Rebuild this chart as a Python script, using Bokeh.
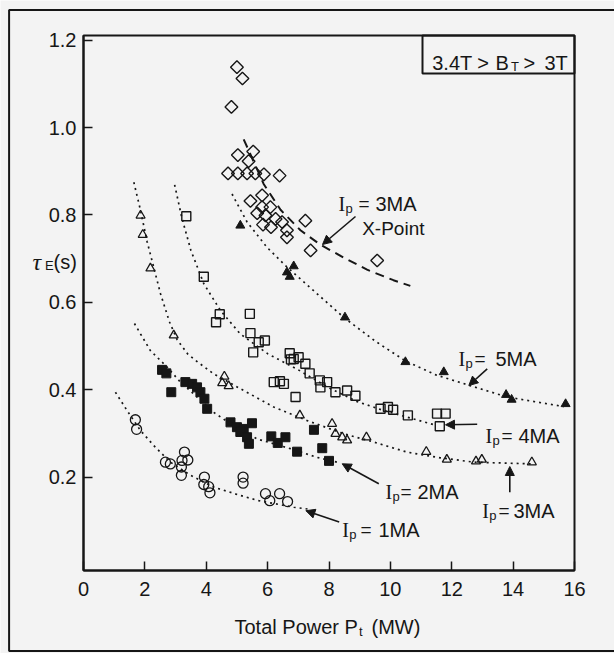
from bokeh.plotting import figure
from bokeh.models import (Range1d, FixedTicker, NumeralTickFormatter, Label,
                          Arrow, NormalHead, BoxAnnotation)
from bokeh.embed import file_html
from bokeh.resources import INLINE
import math

# ---------------- data ----------------
X_TICKS = [0, 2, 4, 6, 8, 10, 12, 14, 16]
Y_TICKS = [0.2, 0.4, 0.6, 0.8, 1.0, 1.2]

# Ip = 3 MA, X-point (open diamonds)
xp_x = [5.00, 5.18, 4.82, 5.03, 5.53, 5.38, 4.71, 5.03, 5.33, 5.60, 5.88, 6.39,
        5.82, 5.44, 5.82, 6.09, 5.66, 5.93, 6.26, 5.85, 6.11, 6.47, 6.63, 6.63,
        7.23, 7.40, 9.57]
xp_y = [1.138, 1.112, 1.047, 0.937, 0.945, 0.923, 0.895, 0.895, 0.895, 0.895, 0.893, 0.890,
        0.845, 0.832, 0.818, 0.818, 0.804, 0.799, 0.791, 0.778, 0.772, 0.784, 0.765, 0.749,
        0.787, 0.719, 0.696]
# Ip = 5 MA (filled triangles)
ma5_x = [5.11, 6.85, 6.63, 6.72, 8.52, 10.49, 11.74, 13.77, 13.95, 15.71]
ma5_y = [0.776, 0.683, 0.669, 0.659, 0.566, 0.464, 0.441, 0.389, 0.378, 0.368]
# Ip = 4 MA (open squares)
ma4_x = [3.35, 3.92, 4.44, 4.32, 5.42, 5.44, 5.71, 5.91, 5.53, 6.72, 6.76, 6.85, 7.01,
         7.23, 7.37, 7.70, 7.72, 7.94, 8.21, 8.59, 8.86, 6.20, 6.40, 6.53, 6.91,
         9.68, 9.92, 10.09, 10.57, 11.52, 11.80, 11.61]
ma4_y = [0.797, 0.659, 0.573, 0.555, 0.574, 0.530, 0.509, 0.513, 0.486, 0.484, 0.470, 0.471, 0.475,
         0.460, 0.438, 0.422, 0.406, 0.418, 0.395, 0.399, 0.387, 0.418, 0.420, 0.414, 0.384,
         0.357, 0.361, 0.355, 0.342, 0.346, 0.346, 0.317]
# Ip = 3 MA (open triangles)
ma3_x = [1.86, 1.93, 2.18, 2.94, 4.59, 4.52, 4.73, 7.05, 8.10, 8.21, 8.43, 8.59, 9.22,
         11.17, 11.84, 12.79, 12.98, 14.61]
ma3_y = [0.799, 0.755, 0.678, 0.525, 0.431, 0.416, 0.409, 0.342, 0.323, 0.300, 0.292, 0.285, 0.292,
         0.259, 0.241, 0.237, 0.241, 0.235]
# Ip = 2 MA (filled squares)
ma2_x = [2.56, 2.70, 2.86, 3.32, 3.54, 3.70, 3.81, 3.94, 4.03, 4.79, 5.00, 5.22, 5.49,
         5.11, 5.33, 5.39, 6.12, 6.33, 6.58, 6.96, 7.51, 7.78, 8.00]
ma2_y = [0.446, 0.438, 0.395, 0.418, 0.414, 0.406, 0.395, 0.380, 0.357, 0.326, 0.315, 0.311, 0.324,
         0.304, 0.292, 0.277, 0.294, 0.279, 0.292, 0.259, 0.309, 0.267, 0.238]
# Ip = 1 MA (open circles)
ma1_x = [1.69, 1.73, 2.67, 2.83, 3.29, 3.40, 3.21, 3.19, 3.19, 3.94, 3.92, 4.08, 4.12,
         5.20, 5.20, 5.93, 6.07, 6.39, 6.65]
ma1_y = [0.332, 0.310, 0.235, 0.231, 0.258, 0.240, 0.239, 0.205, 0.224, 0.201, 0.184, 0.179, 0.165,
         0.201, 0.187, 0.163, 0.147, 0.163, 0.145]

# fitted curves, points
fxp_x = [5.22, 5.87, 6.42, 7.07, 7.72, 8.47, 9.24, 10.10, 10.65]
fxp_y = [0.973, 0.871, 0.812, 0.765, 0.732, 0.703, 0.675, 0.651, 0.638]
f5_x = [4.84, 5.33, 5.98, 6.63, 7.50, 8.48, 9.50, 10.50, 11.50, 12.60, 13.80, 15.65]
f5_y = [0.848, 0.784, 0.726, 0.681, 0.627, 0.566, 0.512, 0.466, 0.434, 0.410, 0.384, 0.362]
f4_x = [2.97, 3.20, 3.50, 3.92, 4.46, 5.11, 6.00, 7.00, 8.00, 8.90, 9.70, 10.54, 11.45]
f4_y = [0.869, 0.795, 0.719, 0.643, 0.582, 0.528, 0.483, 0.446, 0.405, 0.374, 0.355, 0.338, 0.320]
f3_x = [1.64, 1.86, 2.07, 2.51, 2.80, 3.05, 3.40, 3.70, 4.24, 5.11, 6.20, 7.29, 8.48, 9.46,
        10.54, 11.63, 12.72, 14.67]
f3_y = [0.875, 0.810, 0.740, 0.620, 0.556, 0.515, 0.482, 0.465, 0.437, 0.403, 0.361, 0.330, 0.300,
        0.281, 0.258, 0.245, 0.235, 0.231]
f2_x = [1.66, 1.86, 2.18, 2.73, 3.16, 3.70, 4.24, 4.79, 5.66, 6.74, 7.61, 8.26]
f2_y = [0.552, 0.528, 0.490, 0.452, 0.418, 0.384, 0.349, 0.323, 0.288, 0.266, 0.246, 0.235]
f1_x = [1.04, 1.42, 1.86, 2.29, 2.83, 3.49, 4.24, 5.11, 5.71, 6.85, 7.30]
f1_y = [0.395, 0.353, 0.307, 0.273, 0.235, 0.205, 0.178, 0.159, 0.147, 0.132, 0.128]

# ---------------- layout / style ----------------
INK = "#161616"
BG = "#f3f3f3"
SANS = "Liberation Sans"
SERIF = "Liberation Serif"
X0, X1 = 0.0, 16.0              # axis extent
Y0, Y1 = -0.0126, 1.2103
FL, FR, FT, FB = 83.0, 574.0, 35.0, 570.0   # axis box edges in canvas pixels
W, H = 614, 653


def px2x(px):
    return X0 + (px - FL) / (FR - FL) * (X1 - X0)


def py2y(py):
    return Y1 - (py - FT) / (FB - FT) * (Y1 - Y0)


# the plotting area spans the whole canvas; the axes sit at fixed data locations
p = figure(width=W, height=H, x_range=Range1d(px2x(0), px2x(W)), y_range=Range1d(py2y(H), py2y(0)),
           output_backend="svg", toolbar_location=None,
           min_border_left=0, min_border_right=0, min_border_top=0, min_border_bottom=0)
p.title.visible = False
p.background_fill_color = BG
p.border_fill_color = BG
p.outline_line_color = None
p.xgrid.visible = False
p.ygrid.visible = False

for ax in (p.xaxis[0], p.yaxis[0]):
    ax.axis_line_color = INK
    ax.axis_line_width = 2
    ax.major_tick_in = 9
    ax.major_tick_out = 0
    ax.major_tick_line_color = INK
    ax.major_tick_line_width = 1.5
    ax.minor_tick_line_color = None
    ax.major_label_text_font = SANS
    ax.major_label_text_font_size = "20px"
    ax.major_label_text_color = INK
p.xaxis.fixed_location = Y0
p.xaxis.bounds = (X0, X1)
p.xaxis.ticker = FixedTicker(ticks=X_TICKS)
p.xaxis.formatter = NumeralTickFormatter(format="0")
p.xaxis.major_label_standoff = 11
p.yaxis.fixed_location = X0
p.yaxis.bounds = (Y0, Y1)
p.yaxis.ticker = FixedTicker(ticks=Y_TICKS)
p.yaxis.formatter = NumeralTickFormatter(format="0.0")
p.yaxis.major_label_standoff = 7

# axis box (top and right sides) and the outer border of the figure
p.add_layout(BoxAnnotation(left=X0, right=X1, top=Y1, bottom=Y0,
                           fill_alpha=0, line_alpha=1, line_color=INK, line_width=2))
p.add_layout(BoxAnnotation(left=px2x(8.6), right=px2x(W + 20), top=py2y(9.5), bottom=py2y(650.5),
                           fill_alpha=0, line_alpha=1, line_color=INK, line_width=2))

# curves
dot = dict(line_color=INK, line_width=1.7, line_dash="2 4")
for cx, cy in ((f5_x, f5_y), (f4_x, f4_y), (f3_x, f3_y), (f2_x, f2_y), (f1_x, f1_y)):
    p.line(cx, cy, **dot)
p.line(fxp_x, fxp_y, line_color=INK, line_width=2, line_dash="9 6")

# markers
p.scatter(xp_x, xp_y, marker="square", angle=math.pi / 4, size=9, fill_color=None,
          line_color=INK, line_width=1.4)
p.scatter(ma5_x, ma5_y, marker="triangle", size=9, fill_color=INK, line_color=INK)
p.scatter(ma4_x, ma4_y, marker="square", size=9, fill_color=None, line_color=INK, line_width=1.4)
p.scatter(ma3_x, ma3_y, marker="triangle", size=9, fill_color=None, line_color=INK, line_width=1.3)
p.scatter(ma2_x, ma2_y, marker="square", size=9, fill_color=INK, line_color=INK)
p.scatter(ma1_x, ma1_y, marker="circle", size=10, fill_color=None, line_color=INK, line_width=1.3)

# box in upper right corner
p.add_layout(BoxAnnotation(left=px2x(422), right=X1, top=Y1, bottom=py2y(73),
                           fill_alpha=0, line_alpha=1, line_color=INK, line_width=2))


# arrows
def arrow(x0, y0, x1, y1):
    p.add_layout(Arrow(end=NormalHead(size=9, fill_color=INK, line_color=INK, line_width=1),
                       x_start=px2x(x0), y_start=py2y(y0), x_end=px2x(x1), y_end=py2y(y1),
                       line_color=INK, line_width=1.6))


arrow(355, 216, 322, 244)          # X-point
arrow(486.7, 368.3, 468.3, 385)    # 5 MA
arrow(476.7, 423.8, 445, 424.3)    # 4 MA
arrow(509.3, 491.7, 509.3, 466)    # 3 MA
arrow(378.3, 483.3, 341.7, 463.3)  # 2 MA
arrow(338.7, 521.5, 305.4, 510.2)  # 1 MA


# text pieces placed at pixel positions
def text(t, x, base, size, font=SANS, style="normal"):
    p.add_layout(Label(x=px2x(x), y=py2y(base), text=t, text_font=font,
                       text_font_size=f"{size}px", text_font_style=style,
                       text_baseline="alphabetic", text_align="left", text_color=INK))


def ip(num, x_i, x_eq, x_num, base):
    text("I", x_i, base, 20, SERIF)
    text("p", x_i + 7, base + 5, 13)
    text("=", x_eq, base, 19)
    text(num, x_num, base, 20)


ip("3MA", 338, 358, 375, 203.3)
text("X-Point", 361.7, 228.3, 19)
ip("5MA", 458, 474, 495, 358)
ip("4MA", 485, 501, 518, 435)
ip("3MA", 481.7, 498, 513, 510)
ip("2MA", 385, 400, 417, 491)
ip("1MA", 341.7, 360, 378, 529)

# condition box text
text("3.4T", 431.7, 62.3, 20)
text(">", 476.7, 62.3, 20)
text("B", 495, 62.3, 20)
text("T", 510.5, 66, 13)
text(">", 523, 62.3, 20)
text("3T", 544, 62.3, 20)

# axis titles
text("Total Power P", 234, 626, 20)
text("t", 358.5, 630.5, 13)
text("(MW)", 371, 626, 20)
text("τ", 32, 261, 24, SERIF, "italic")
text("E", 44.5, 265, 13)
text("(s)", 53, 261, 20)

open("out.html", "w").write(file_html(p, INLINE))
